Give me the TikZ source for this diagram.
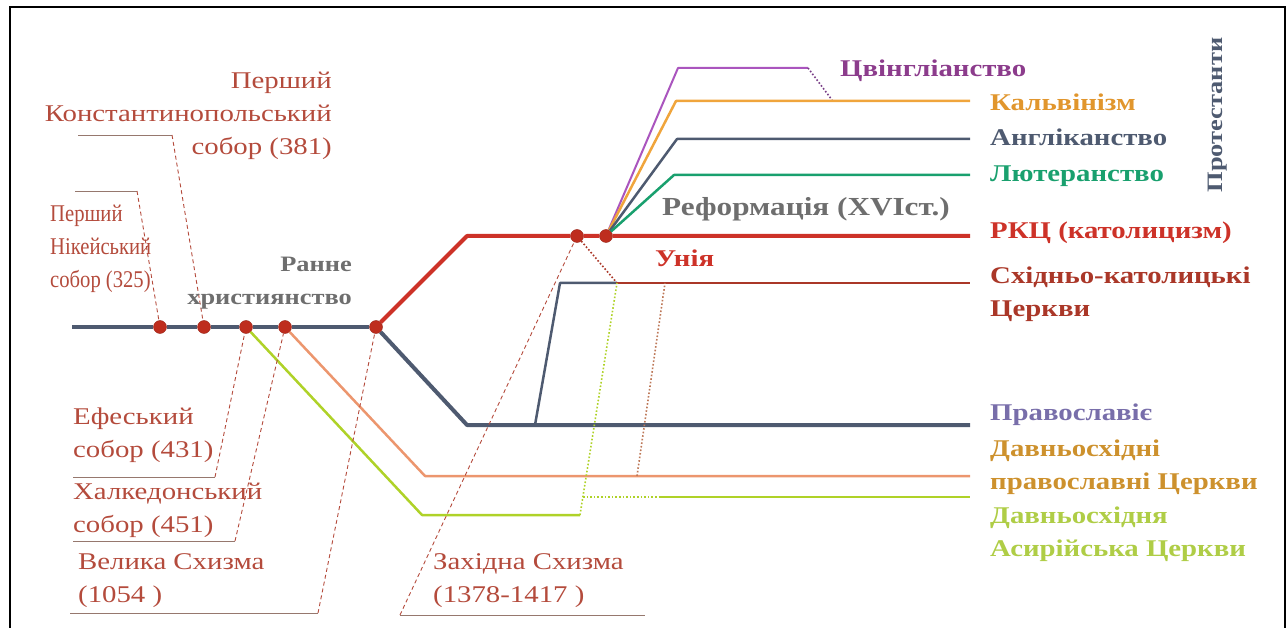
\documentclass[tikz,border=0pt]{standalone}
\usepackage{fontspec}
\setmainfont{Liberation Serif}[FakeStretch=1.2]
\newfontfamily\narrowserif{Liberation Serif}[FakeStretch=0.86]
\usetikzlibrary{positioning, calc}
\definecolor{timeslate}{RGB}{78,90,112}
\definecolor{dotred}{RGB}{190,45,30}
\definecolor{romered}{RGB}{205,50,40}
\definecolor{councilred}{RGB}{180,75,60}
\definecolor{leadgray}{RGB}{150,120,110}
\definecolor{orientorange}{RGB}{236,150,110}
\definecolor{orienttext}{RGB}{205,145,45}
\definecolor{assyrgreen}{RGB}{175,210,40}
\definecolor{assyrtext}{RGB}{175,205,70}
\definecolor{zwingpurple}{RGB}{170,85,190}
\definecolor{zwingtext}{RGB}{140,60,140}
\definecolor{calvorange}{RGB}{240,165,60}
\definecolor{calvtext}{RGB}{225,150,45}
\definecolor{lutgreen}{RGB}{25,160,110}
\definecolor{uniared}{RGB}{170,55,40}
\definecolor{orthtext}{RGB}{120,110,170}
\definecolor{earlygray}{RGB}{110,110,110}

\begin{document}
\begin{tikzpicture}[x=1pt, y=-1pt,
  font=\fontsize{24}{33}\selectfont,
  dot/.style={circle, fill=dotred, draw=dotred!80!black, inner sep=0pt, minimum size=13pt},
  trunk/.style={draw=#1, line width=4pt, line join=round},
  twig/.style={draw=#1, line width=2.5pt, line join=round},
  lead/.style={draw=leadgray, line width=0.8pt},
  tick/.style={draw=councilred, line width=0.9pt, dash pattern=on 4pt off 3pt},
  dots/.style={draw=#1, line width=1.6pt, dotted},
  council/.style={text=councilred, align=left, anchor=north west, inner sep=0pt},
  church/.style={text=#1, font=\fontsize{24}{33}\selectfont\bfseries, align=left, anchor=north west, inner sep=0pt}
]
\useasboundingbox (0,0) rectangle (1288,628);
\draw[line width=1.6pt] (10,628) -- (10,7) -- (1285,7) -- (1285,628);

% points on the timeline
\node[dot] (d325) at (160,327) {};
\node[dot] (d381) at (204,327) {};
\node[dot] (d431) at (246,327) {};
\node[dot] (d451) at (285,327) {};
\node[dot] (d1054) at (376,327) {};
\node[dot] (d1378) at (577,236) {};
\node[dot] (dref) at (606,236) {};

\coordinate (start) at (72,327);
\coordinate (romebend) at (467,236);
\coordinate (romeend) at (970,236);
\coordinate (orthbend) at (467,425);
\coordinate (orthend) at (970,425);
\coordinate (orientbend) at (425,476);
\coordinate (orientend) at (970,476);
\coordinate (assyrbend) at (422,515);
\coordinate (assyrstop) at (580,515);
\coordinate (assyrjog) at (583,497);
\coordinate (assyrgo) at (660,497);
\coordinate (assyrend) at (970,497);
\coordinate (ecfoot) at (535,425);
\coordinate (ecbend) at (560,283);
\coordinate (unia) at (617,283);
\coordinate (ecend) at (970,283);
\coordinate (orientfoot) at (637,476);
\coordinate (orientunia) at (665,283);

% the trunk and the great branches
\draw[trunk=timeslate] (start) -- (d325) -- (d381) -- (d431) -- (d451) -- (d1054);
\draw[trunk=romered] (d1054) -- (romebend) -- (d1378) -- (dref) -- (romeend);
\draw[trunk=timeslate] (d1054) -- (orthbend) -- (orthend);
\draw[twig=orientorange] (d451) -- (orientbend) -- (orientend);
\draw[twig=assyrgreen] (d431) -- (assyrbend) -- (assyrstop);
\draw[twig=assyrgreen] (assyrgo) -- (assyrend);
\draw[twig=timeslate] (ecfoot) -- (ecbend) -- (unia);
\draw[twig=uniared] (unia) -- (ecend);

% unions
\draw[dots=uniared] (d1378) -- (unia);
\draw[dots=assyrgreen] (assyrstop) -- (unia);
\draw[dots=assyrgreen] (assyrjog) -- (assyrgo);
\draw[dots=orientorange!80!black] (orientfoot) -- (orientunia);

% reformation
\coordinate (zwbend) at (678,68);
\coordinate (zwend) at (808,68);
\coordinate (zwjoin) at (832,100);
\coordinate (calbend) at (676,101);
\coordinate (calend) at (970,101);
\coordinate (angbend) at (677,139);
\coordinate (angend) at (970,139);
\coordinate (lutbend) at (674,175);
\coordinate (lutend) at (970,175);
\draw[twig=zwingpurple, line width=2pt] (dref) -- (zwbend) -- (zwend);
\draw[dots=zwingpurple!70!black] (zwend) -- (zwjoin);
\draw[twig=calvorange] (dref) -- (calbend) -- (calend);
\draw[twig=timeslate] (dref) -- (angbend) -- (angend);
\draw[twig=lutgreen] (dref) -- (lutbend) -- (lutend);

% councils and schisms
\node[council, align=right, anchor=north east] (konst) at (332,72) {Перший\\Константинопольський\\собор (381)};
\node[council, font=\fontsize{24}{33}\selectfont\narrowserif] (nikea) at (50,205) {Перший\\Нікейський\\собор (325)};
\node[council] (efes) at (73,408) {Ефеський\\собор (431)};
\node[council] (halk) at (73,483) {Халкедонський\\собор (451)};
\node[council] (velyka) at (78,553) {Велика Схизма\\(1054 )};
\node[council] (zakh) at (433,553) {Західна Схизма\\(1378-1417 )};

\coordinate (konstl) at (78,135);
\coordinate (konstr) at (172,135);
\coordinate (nikeal) at (75,191);
\coordinate (nikear) at (137,191);
\coordinate (efesl) at (73,477);
\coordinate (efesr) at (215,477);
\coordinate (halkl) at (73,541);
\coordinate (halkr) at (235,541);
\coordinate (velykal) at (70,613);
\coordinate (velykar) at (318,613);
\coordinate (zakhl) at (400,615);
\coordinate (zakhr) at (645,615);
\draw[lead] (konstl) -- (konstr);
\draw[tick] (konstr) -- (d381);
\draw[lead] (nikeal) -- (nikear);
\draw[tick] (nikear) -- (d325);
\draw[lead] (efesl) -- (efesr);
\draw[tick] (efesr) -- (d431);
\draw[lead] (halkl) -- (halkr);
\draw[tick] (halkr) -- (d451);
\draw[lead] (velykal) -- (velykar);
\draw[tick] (velykar) -- (d1054);
\draw[lead] (zakhl) -- (zakhr);
\draw[tick] (zakhl) -- (d1378);

% churches
\node[church=earlygray, font=\fontsize{22}{33}\selectfont\bfseries, align=right, anchor=north east] (early) at (352,257) {Ранне\\християнство};
\node[church=earlygray, font=\fontsize{26}{33}\selectfont\bfseries] (reform) at (662,197) {Реформація (XVIст.)};
\node[church=romered] (uniatxt) at (655,250) {Унія};
\node[church=zwingtext] (zwing) at (840,60) {Цвінгліанство};
\node[church=calvtext] (calv) at (990,94) {Кальвінізм};
\node[church=timeslate] (angl) at (990,129) {Англіканство};
\node[church=lutgreen] (luth) at (990,166) {Лютеранство};
\node[church=romered] (rkc) at (990,222) {РКЦ (католицизм)};
\node[church=uniared] (eastcat) at (990,267) {Східньо-католицькі\\Церкви};
\node[church=orthtext] (orth) at (990,404) {Православіє};
\node[church=orienttext] (orient) at (990,440) {Давньосхідні\\православні Церкви};
\node[church=assyrtext] (assyr) at (990,507) {Давньосхідня\\Асирійська Церкви};
\node[text=timeslate, font=\fontsize{22}{33}\selectfont\bfseries, rotate=90] (prot) at (1218,115) {Протестанти};
\end{tikzpicture}
\end{document}
